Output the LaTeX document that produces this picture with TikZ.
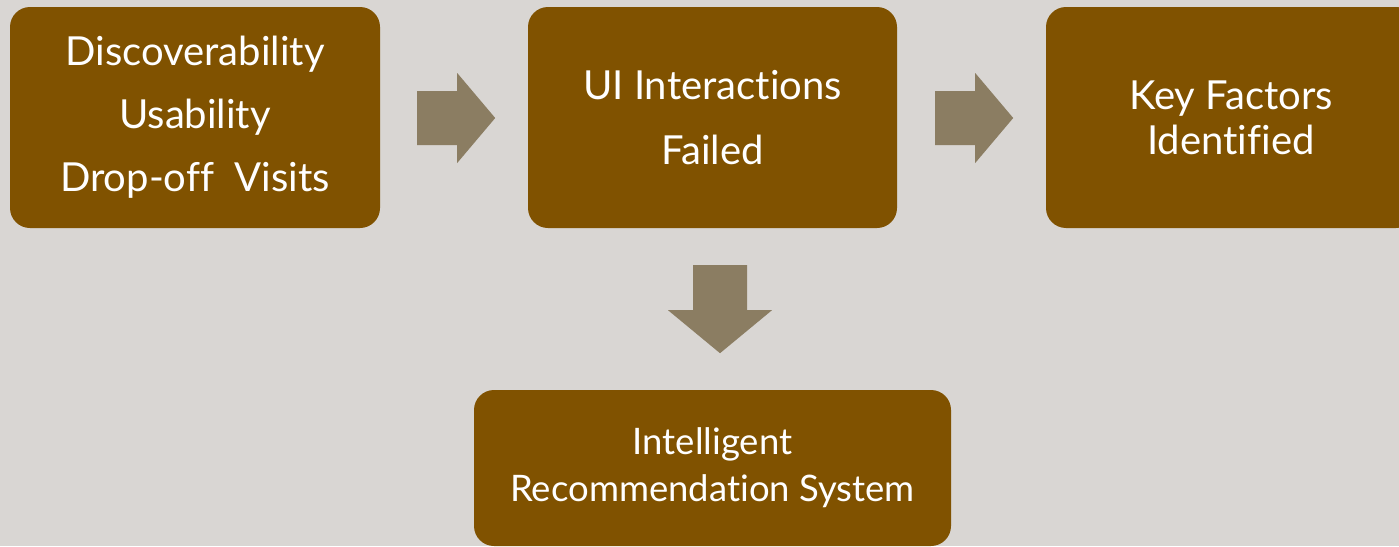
\documentclass[tikz,border=0pt]{standalone}
\usepackage{fontspec}
\setmainfont{Lato}[Ligatures={NoCommon,NoDiscretionary,NoRare}]
\usetikzlibrary{calc}
\definecolor{bgc}{RGB}{217,214,211}
\definecolor{boxc}{RGB}{128,82,0}
\definecolor{arrc}{RGB}{139,125,98}
\tikzset{
  box/.style={fill=boxc, rounded corners=20pt, inner sep=0pt, text=white, align=center},
  blockarrow/.style={fill=arrc},
}
\begin{document}
\begin{tikzpicture}[x=1pt,y=-1pt]
\useasboundingbox (0,0) rectangle (1399,546);
\clip (0,0) rectangle (1399,546);
\fill[bgc] (0,0) rectangle (1399,546);
\node[box, minimum width=370pt, minimum height=221pt, font={\fontsize{40}{63}\selectfont}] (b1) at (195,117.5)
  {Discoverability\\Usability\\Drop-off\ \ Visits};
\node[box, minimum width=369pt, minimum height=221pt, font={\fontsize{40}{65}\selectfont}] (b2) at (712.5,117.5)
  {UI Interactions\\Failed};
\node[box, minimum width=370pt, minimum height=221pt, font={\fontsize{40}{45}\selectfont}] (b3) at (1231,117.5)
  {Key Factors\\Identified};
\node[box, minimum width=477pt, minimum height=156pt, font={\fontsize{36.5}{47}\selectfont}] (b4) at (712.5,468)
  {Intelligent\\Recommendation System};
\fill[blockarrow] ($(b1.east)+(37,-26.5)$) -- ++(40,0) -- ++(0,-18) -- ++(38,45) -- ++(-38,45) -- ++(0,-18) -- ++(-40,0) -- cycle;
\fill[blockarrow] ($(b2.east)+(38,-26.5)$) -- ++(40,0) -- ++(0,-18) -- ++(38,45) -- ++(-38,45) -- ++(0,-18) -- ++(-40,0) -- cycle;
\fill[blockarrow] ($(b2.south)+(-19.5,37)$) -- ++(54,0) -- ++(0,45) -- ++(25,0) -- ++(-52,43) -- ++(-52,-43) -- ++(25,0) -- cycle;
\end{tikzpicture}
\end{document}
